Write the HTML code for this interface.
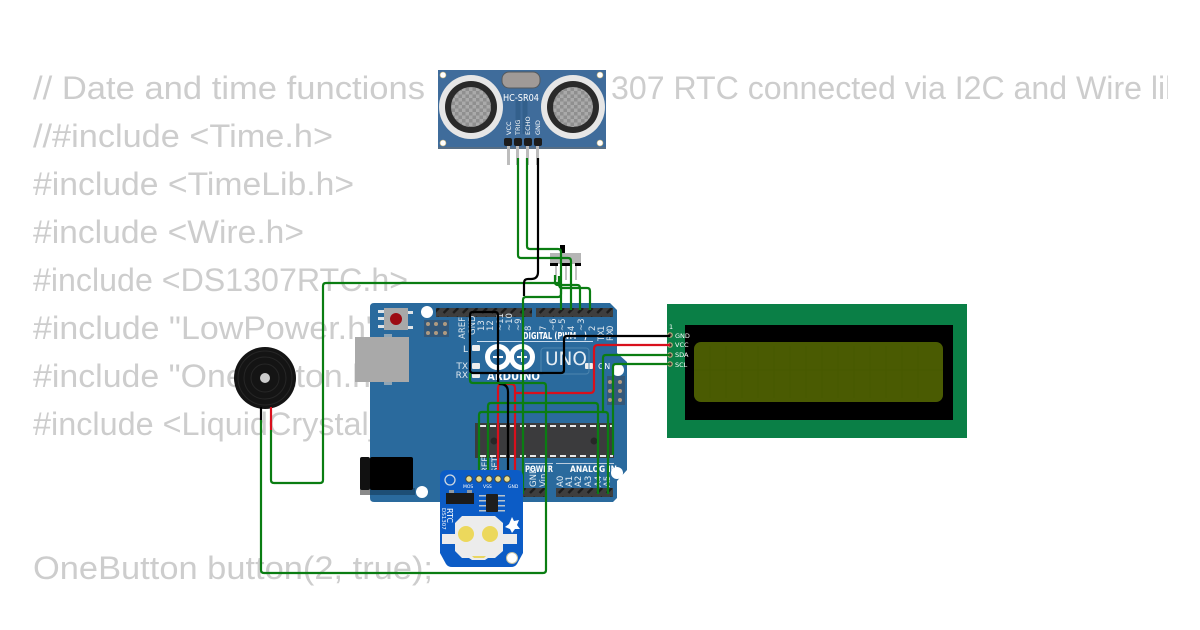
<!DOCTYPE html>
<html><head><meta charset="utf-8"><style>
html,body{margin:0;padding:0;background:#fff;width:1200px;height:630px;overflow:hidden}
svg{display:block}
.c{font-family:"Liberation Sans",sans-serif;font-size:32px;fill:#cdcdcd}
.w{fill:none;stroke-width:2.2;stroke-linejoin:round}
.g{stroke:#0a7d12}.r{stroke:#d8101c}.b{stroke:#000}
.ar{font-family:"DejaVu Sans",sans-serif;font-weight:bold;fill:#fff}
.lb{font-family:"DejaVu Sans",sans-serif;font-size:8.5px;fill:#dfe8ef;text-anchor:start}
</style></head><body>
<svg width="1200" height="630" viewBox="0 0 1200 630" xmlns="http://www.w3.org/2000/svg">
<defs>
<clipPath id="cp"><rect x="0" y="0" width="1168" height="630"/></clipPath>
<pattern id="mesh" width="7" height="7" patternUnits="userSpaceOnUse"><rect width="7" height="7" fill="#aaa"/><rect width="3.5" height="3.5" fill="#8f8f8f"/><rect x="3.5" y="3.5" width="3.5" height="3.5" fill="#8f8f8f"/></pattern>
<pattern id="pins" width="9.6" height="9" patternUnits="userSpaceOnUse"><rect width="9.6" height="9" fill="#3e3e3e"/><path d="M2 7L7 2" stroke="#1c1c1c" stroke-width="2.4"/></pattern>
<pattern id="dash" width="10" height="2" patternUnits="userSpaceOnUse"><rect width="6" height="2" fill="#e8e8e8"/></pattern>
</defs>
<g clip-path="url(#cp)" class="c">
<text x="33" y="99" textLength="392" lengthAdjust="spacingAndGlyphs">// Date and time functions</text>
<text x="611" y="99" textLength="572" lengthAdjust="spacingAndGlyphs">307 RTC connected via I2C and Wire lib</text>
<text x="33" y="147" textLength="300" lengthAdjust="spacingAndGlyphs">//#include &lt;Time.h&gt;</text>
<text x="33" y="195" textLength="321" lengthAdjust="spacingAndGlyphs">#include &lt;TimeLib.h&gt;</text>
<text x="33" y="243" textLength="271" lengthAdjust="spacingAndGlyphs">#include &lt;Wire.h&gt;</text>
<text x="33" y="291" textLength="375" lengthAdjust="spacingAndGlyphs">#include &lt;DS1307RTC.h&gt;</text>
<text x="33" y="339" textLength="345" lengthAdjust="spacingAndGlyphs">#include "LowPower.h"</text>
<text x="33" y="387" textLength="350" lengthAdjust="spacingAndGlyphs">#include "OneButton.h"</text>
<text x="33" y="435" textLength="450" lengthAdjust="spacingAndGlyphs">#include &lt;LiquidCrystal_I2C.h&gt;</text>
<text x="33" y="579" textLength="400" lengthAdjust="spacingAndGlyphs">OneButton button(2, true);</text>
</g>

<!-- Arduino -->
<path d="M374 303H610L617 310V353L627 362V470L617 481V498L613 502H374Q370 502 370 498V307Q370 303 374 303Z" fill="#2a6a9d"/>
<rect x="355" y="337" width="54" height="45" fill="#a9a9a9"/>
<rect x="384" y="334" width="8" height="3" fill="#8fa5b5"/><rect x="384" y="382" width="8" height="3" fill="#8fa5b5"/>
<rect x="370" y="488" width="45" height="7" fill="#1d4e75"/><rect x="360" y="488" width="10" height="7" fill="#8a8a8a"/>
<rect x="370" y="457" width="43" height="33" rx="2" fill="#000"/>
<rect x="360" y="457" width="10" height="33" rx="2" fill="#111"/>
<g fill="#dfe4e8"><rect x="378" y="310" width="6" height="3"/><rect x="378" y="317" width="6" height="3"/><rect x="378" y="325" width="6" height="3"/><rect x="408" y="311" width="5" height="3"/><rect x="408" y="326" width="5" height="3"/></g>
<rect x="384" y="308" width="24" height="22" fill="#a8a8a8"/>
<circle cx="396" cy="319" r="6" fill="#9c0a12"/>
<circle cx="427" cy="312" r="6" fill="#fff"/>
<rect x="424" y="320" width="25" height="17" fill="#33587a"/>
<g fill="#b09a80"><circle cx="428" cy="324" r="2"/><circle cx="436" cy="324" r="2"/><circle cx="445" cy="324" r="2"/><circle cx="428" cy="333" r="2"/><circle cx="436" cy="333" r="2"/><circle cx="445" cy="333" r="2"/></g>
<rect x="436" y="308" width="96" height="9" fill="url(#pins)"/>
<rect x="536" y="308" width="77" height="9" fill="url(#pins)"/>
<rect x="522" y="488" width="24" height="9" fill="url(#pins)"/>
<rect x="556" y="488" width="57" height="9" fill="url(#pins)"/>
<g class="lb">
<text transform="translate(465,339) rotate(-90)">AREF</text>
<text transform="translate(475,335) rotate(-90)">GND</text>
<text transform="translate(484,331) rotate(-90)">13</text>
<text transform="translate(493,331) rotate(-90)">12</text>
<text transform="translate(503,331) rotate(-90)">~11</text>
<text transform="translate(512,331) rotate(-90)">~10</text>
<text transform="translate(521,331) rotate(-90)">~9</text>
<text transform="translate(531,331) rotate(-90)">8</text>
<text transform="translate(546,331) rotate(-90)">7</text>
<text transform="translate(556,331) rotate(-90)">~6</text>
<text transform="translate(565,331) rotate(-90)">~5</text>
<text transform="translate(574,331) rotate(-90)">4</text>
<text transform="translate(584,331) rotate(-90)">~3</text>
<text transform="translate(595,331) rotate(-90)">2</text>
<text transform="translate(604,331) rotate(-90)">1</text>
<text transform="translate(613,331) rotate(-90)">0</text>
<text transform="translate(604,341) rotate(-90)">TX</text>
<text transform="translate(613,341) rotate(-90)">RX</text>
</g>
<text x="523" y="339" class="ar" font-size="10" textLength="64" lengthAdjust="spacingAndGlyphs">DIGITAL (PWM ~)</text>
<rect x="477" y="341" width="116" height="1" fill="#cde"/>
<g font-family="DejaVu Sans,sans-serif" font-size="9" fill="#dfe8ef" text-anchor="end">
<text x="468" y="352">L</text><text x="468" y="369">TX</text><text x="468" y="378">RX</text>
</g>
<rect x="472" y="345" width="8" height="6" rx="1" fill="#eee"/>
<rect x="472" y="363" width="8" height="6" rx="1" fill="#eee"/>
<rect x="472" y="372" width="8" height="6" rx="1" fill="#eee"/>
<rect x="585" y="363" width="8" height="6" rx="1" fill="#eee"/>
<g fill="none" stroke="#fff" stroke-width="5">
<circle cx="498" cy="357" r="10.5"/><circle cx="522" cy="357" r="10.5"/>
</g>
<rect x="493" y="356" width="10" height="2" fill="#fff"/>
<rect x="517" y="356" width="10" height="2" fill="#fff"/><rect x="521" y="352" width="2" height="10" fill="#fff"/>
<text x="487" y="380" class="ar" font-size="11" textLength="53" lengthAdjust="spacingAndGlyphs">ARDUINO</text>
<rect x="541" y="348" width="48" height="26" rx="3" fill="none" stroke="#4d85ae"/>
<text x="545" y="365" font-family="DejaVu Sans,sans-serif" font-size="19" fill="#e6eef4" textLength="42" lengthAdjust="spacingAndGlyphs">UNO</text>
<text x="598" y="369" font-family="DejaVu Sans,sans-serif" font-size="8" fill="#fff">ON</text>
<rect x="607" y="376" width="18" height="29" fill="#33587a"/>
<circle cx="618" cy="370" r="6" fill="#fff"/>
<circle cx="617" cy="473" r="6" fill="#fff"/>
<circle cx="422" cy="492" r="6" fill="#fff"/>
<g fill="#b09a80"><circle cx="610" cy="382" r="2"/><circle cx="620" cy="382" r="2"/><circle cx="610" cy="391" r="2"/><circle cx="620" cy="391" r="2"/><circle cx="610" cy="400" r="2"/><circle cx="620" cy="400" r="2"/></g>
<rect x="475" y="423" width="139" height="35" fill="#3b3b3d"/>
<rect x="476" y="425" width="137" height="2" fill="url(#dash)"/>
<rect x="476" y="455" width="137" height="2" fill="url(#dash)"/>
<circle cx="494" cy="441" r="3.5" fill="#272727"/><circle cx="594" cy="441" r="3.5" fill="#272727"/>
<rect x="525" y="463" width="28" height="1" fill="#bcd"/><rect x="556" y="463" width="58" height="1" fill="#bcd"/>
<text x="525" y="472" class="ar" font-size="8.5" textLength="28" lengthAdjust="spacingAndGlyphs">POWER</text>
<text x="570" y="472" class="ar" font-size="8.5" textLength="47" lengthAdjust="spacingAndGlyphs">ANALOG IN</text>
<g font-family="DejaVu Sans,sans-serif" font-size="8.5" fill="#e6eef4">
<text transform="translate(536,487) rotate(-90)">GND</text>
<text transform="translate(546,487) rotate(-90)">Vin</text>
<text transform="translate(563,487) rotate(-90)">A0</text>
<text transform="translate(572,487) rotate(-90)">A1</text>
<text transform="translate(581,487) rotate(-90)">A2</text>
<text transform="translate(591,487) rotate(-90)">A3</text>
<text transform="translate(601,487) rotate(-90)">A4</text>
<text transform="translate(610,487) rotate(-90)">A5</text>
<text transform="translate(488,473) rotate(-90)">REF</text>
<text transform="translate(498,473) rotate(-90)">SET</text>
</g>

<!-- Sensor -->
<rect x="438" y="70" width="168" height="79" fill="#3f6c9b"/>
<rect x="438" y="147" width="168" height="2" fill="#6f6f6f" opacity=".5"/>
<g fill="#fff" stroke="#c9b780" stroke-width=".6"><circle cx="443" cy="75" r="3"/><circle cx="600" cy="75" r="3"/><circle cx="443" cy="143" r="3"/><circle cx="600" cy="143" r="3"/></g>
<rect x="502" y="72" width="38" height="16" rx="7" fill="#a09a97" stroke="#55595d"/>
<path d="M518 100V134M525 100V134" stroke="#33608c" stroke-width="5"/>
<circle cx="471" cy="107" r="32" fill="#e6e6e6"/><circle cx="471" cy="107" r="26" fill="#2a2a2a"/><circle cx="471" cy="107" r="20" fill="url(#mesh)"/>
<circle cx="573" cy="107" r="32" fill="#e6e6e6"/><circle cx="573" cy="107" r="26" fill="#2a2a2a"/><circle cx="573" cy="107" r="20" fill="url(#mesh)"/>
<text x="503" y="101" font-family="DejaVu Sans,sans-serif" font-size="10" fill="#fff" textLength="36" lengthAdjust="spacingAndGlyphs">HC-SR04</text>
<g font-family="DejaVu Sans,sans-serif" font-size="6.5" fill="#fff">
<text transform="translate(511,135) rotate(-90)">VCC</text><text transform="translate(520,135) rotate(-90)">TRIG</text><text transform="translate(530,135) rotate(-90)">ECHO</text><text transform="translate(540,135) rotate(-90)">GND</text>
</g>
<g fill="#bdbdbd"><rect x="507" y="145" width="3" height="20"/><rect x="516" y="145" width="3" height="20"/><rect x="526" y="145" width="3" height="20"/><rect x="536" y="145" width="3" height="20"/></g>
<g fill="#1c1c1c"><rect x="504" y="138" width="8" height="8" rx="2"/><rect x="514" y="138" width="8" height="8" rx="2"/><rect x="524" y="138" width="8" height="8" rx="2"/><rect x="534" y="138" width="8" height="8" rx="2"/></g>

<!-- Switch -->
<rect x="560" y="245" width="5" height="8" fill="#000"/>
<rect x="550" y="253" width="31" height="11" fill="#b5b5b5"/>
<rect x="550" y="263" width="8" height="3" fill="#000"/><rect x="560" y="263" width="12" height="3" fill="#000"/><rect x="575" y="263" width="6" height="3" fill="#000"/>
<g fill="#c2c2c2"><rect x="555" y="266" width="2" height="14"/><rect x="565" y="266" width="2" height="14"/><rect x="575" y="266" width="2" height="14"/></g>

<!-- Buzzer -->
<circle cx="265" cy="378" r="31" fill="#141414"/>
<g fill="none" stroke="#262626"><circle cx="265" cy="378" r="27"/><circle cx="265" cy="378" r="21"/><circle cx="265" cy="378" r="14"/></g>
<circle cx="265" cy="378" r="5" fill="#ccc"/>

<!-- LCD -->
<rect x="667" y="304" width="300" height="134" fill="#0a7f46"/>
<rect x="685" y="325" width="268" height="95" fill="#000"/>
<rect x="694" y="342" width="249" height="60" rx="7" fill="#4a5b02"/>
<g stroke="#475800" stroke-width="1"><path d="M710 346V398M726 346V398M742 346V398M758 346V398M774 346V398M790 346V398M806 346V398M822 346V398M838 346V398M854 346V398M870 346V398M886 346V398M902 346V398M918 346V398M694 370H943"/></g>
<g fill="#333" stroke="#c2b280" stroke-width="1.2"><circle cx="670" cy="335" r="2.2"/><circle cx="670" cy="345" r="2.2"/><circle cx="670" cy="355" r="2.2"/><circle cx="670" cy="364" r="2.2"/></g>
<g font-family="DejaVu Sans,sans-serif" font-size="6.5" fill="#fff"><text x="669" y="329">1</text><text x="675" y="338">GND</text><text x="675" y="347">VCC</text><text x="675" y="357">SDA</text><text x="675" y="367">SCL</text></g>

<!-- Wires under RTC -->
<g class="w">
<path class="r" d="M498 480V388Q498 384 502 384H511Q515 384 515 388V495"/>
<path class="r" d="M515 393H590Q594 393 594 389V349Q594 345 598 345H670"/>
<path class="g" d="M479 479V415Q479 412 482 412H605Q608 412 608 415V494"/>
<path class="g" d="M488 479V406Q488 403 491 403H595Q598 403 598 406V494"/>
<path class="g" d="M603 412V358Q603 355 606 355H670"/>
<path class="g" d="M613 455V367Q613 364 616 364H670"/>
<path class="g" d="M523 494V300Q523 297 526 297H558Q561 297 561 294V252Q561 249 558 249H530Q527 249 527 246V158"/>
<path class="g" d="M518 158V255Q518 258 521 258H568Q571 258 571 261V310"/>
<path class="g" d="M561 296V310"/>
<path class="g" d="M271 430V480Q271 483 274 483H320Q323 483 323 480V286Q323 283 326 283H558Q561 283 561 286V296"/>
<path class="r" d="M271 407V430"/>
<path class="g" d="M555 275V282Q555 285 558 285H577Q580 285 580 288V310"/>
<path class="g" d="M559 276V284Q559 288 562 288H587Q590 288 590 291V310"/>
<path class="b" d="M538 158V272Q538 279 531 279H528Q524 279 524 283V296"/>
<path class="b" d="M508 480V392Q508 384 500 384H501Q498 384 498 380V315Q498 312 495 312H473Q470 312 470 315V370Q470 373 473 373H561Q564 373 564 370V339Q564 336 567 336H670"/>
<path class="g" d="M470 373V380Q470 383 473 383H543Q546 383 546 386V570Q546 573 543 573H264Q261 573 261 570V420"/>
<path class="b" d="M261 407V420"/>
</g>

<!-- RTC -->
<path d="M447 470H516Q523 470 523 477V553L517 564Q515 567 511 567H452Q448 567 446 564L440 553V477Q440 470 447 470Z" fill="#0c5cc6"/>
<circle cx="450" cy="480" r="5" fill="none" stroke="#cfd8e0" stroke-width="1.3"/>
<g fill="#e8dc8c" stroke="#4a4a3a" stroke-width="1"><circle cx="469" cy="479" r="3.2"/><circle cx="479" cy="479" r="3.2"/><circle cx="489" cy="479" r="3.2"/><circle cx="498" cy="479" r="3.2"/><circle cx="507" cy="479" r="3.2"/></g>
<g font-family="DejaVu Sans,sans-serif" font-size="4.5" fill="#fff"><text x="463" y="488">MOS</text><text x="483" y="488">VSS</text><text x="508" y="488">GND</text></g>
<rect x="446" y="493" width="28" height="11" fill="#1b1b1b"/>
<rect x="449" y="490" width="5" height="3" fill="#8f9aa5"/><rect x="467" y="490" width="5" height="3" fill="#8f9aa5"/>
<rect x="486" y="494" width="12" height="18" rx="1" fill="#1e1e1e"/>
<g fill="#b9c3cc"><rect x="479" y="495" width="7" height="1.5"/><rect x="479" y="500" width="7" height="1.5"/><rect x="479" y="505" width="7" height="1.5"/><rect x="479" y="510" width="7" height="1.5"/><rect x="498" y="495" width="7" height="1.5"/><rect x="498" y="500" width="7" height="1.5"/><rect x="498" y="505" width="7" height="1.5"/><rect x="498" y="510" width="7" height="1.5"/></g>
<text transform="translate(442,508) rotate(90)" font-family="DejaVu Sans,sans-serif" font-size="5.5" fill="#fff" x="0" y="0">DS1307</text>
<text transform="translate(447,508) rotate(90)" font-family="DejaVu Sans,sans-serif" font-size="8" fill="#fff" x="0" y="0">RTC</text>
<path d="M442 534H455V523L462 516H495L503 523V534H517V544H503V551L495 558H488L485 560H472L469 558H462L455 551V544H442Z" fill="#ececec"/>
<path d="M472 556H486L484 558H474Z" fill="#e9d661"/>
<circle cx="466" cy="534" r="8" fill="#ecd85c"/><circle cx="490" cy="534" r="8" fill="#ecd85c"/>
<path d="M512 517L514 521L519 520L517 525L520 529L515 529L512 533L510 529L505 527L509 524Z" fill="#fff"/>
<circle cx="512" cy="558" r="5.5" fill="#fff" stroke="#c9c2a0"/>
</svg>
</body></html>
